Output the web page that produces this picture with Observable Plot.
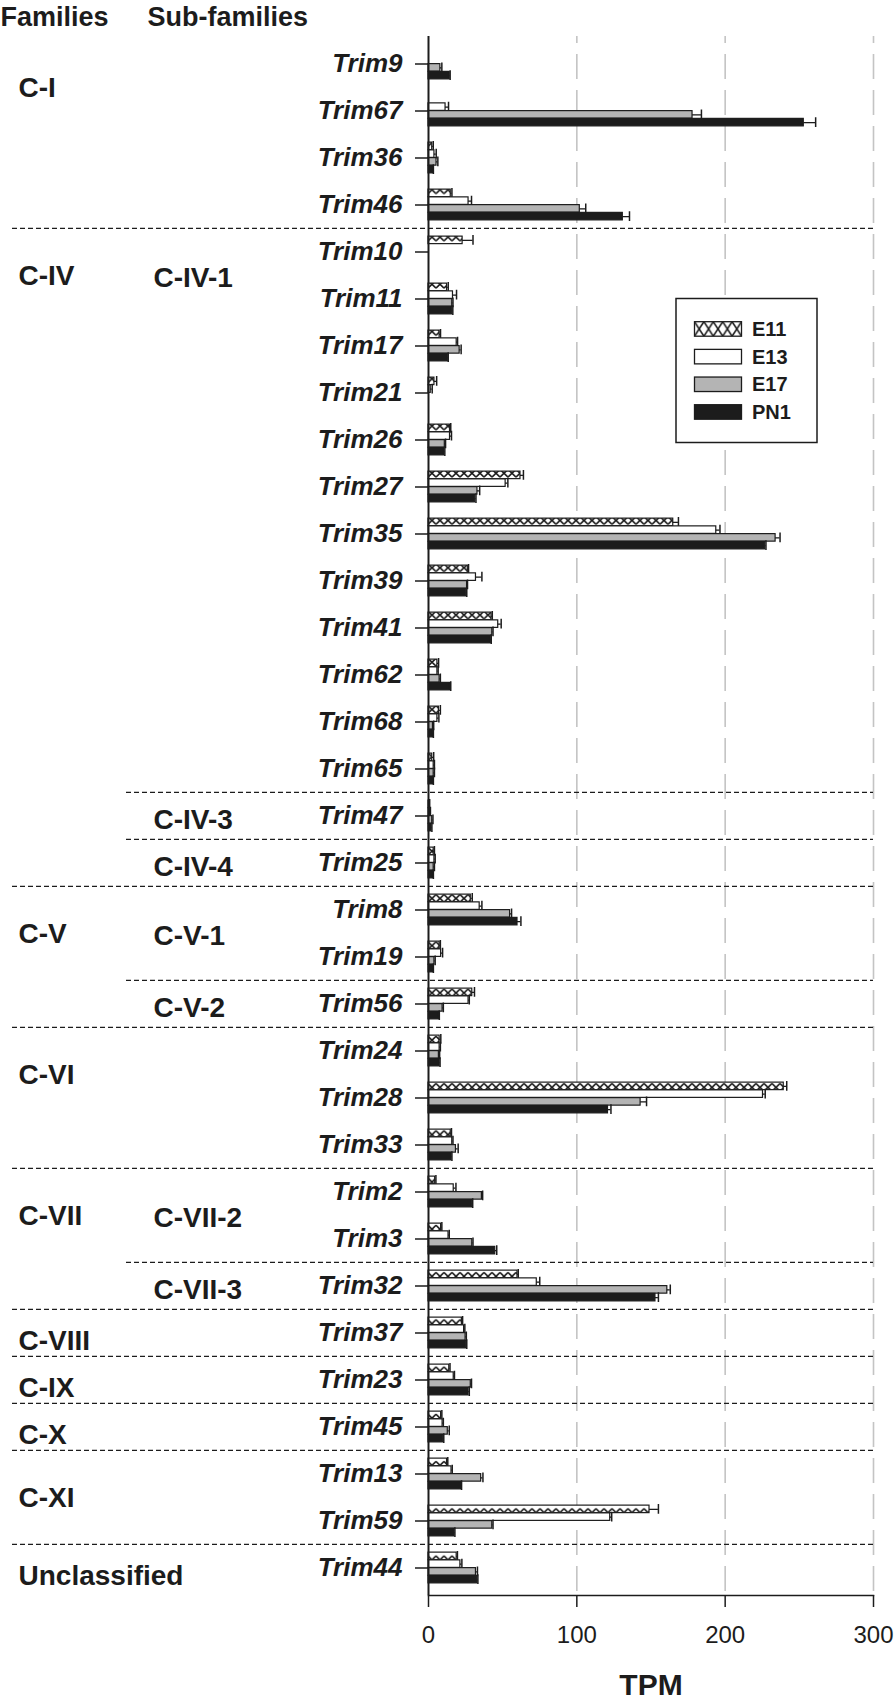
<!DOCTYPE html>
<html>
<head>
<meta charset="utf-8">
<script src="https://cdn.jsdelivr.net/npm/d3@7"></script>
<script src="https://cdn.jsdelivr.net/npm/@observablehq/plot@0.6"></script>
<style>
  html, body { margin: 0; padding: 0; background: #fff; }
  #chart { width: 896px; height: 1700px; }
</style>
</head>
<body>
<div id="chart"></div>
<script>
// ---------------- DATA ----------------
const genes = ["Trim9","Trim67","Trim36","Trim46","Trim10","Trim11","Trim17","Trim21","Trim26","Trim27","Trim35","Trim39","Trim41","Trim62","Trim68","Trim65","Trim47","Trim25","Trim8","Trim19","Trim56","Trim24","Trim28","Trim33","Trim2","Trim3","Trim32","Trim37","Trim23","Trim45","Trim13","Trim59","Trim44"];
const families = ["C-I","C-I","C-I","C-I",
  "C-IV","C-IV","C-IV","C-IV","C-IV","C-IV","C-IV","C-IV","C-IV","C-IV","C-IV","C-IV","C-IV","C-IV",
  "C-V","C-V","C-V","C-VI","C-VI","C-VI","C-VII","C-VII","C-VII","C-VIII","C-IX","C-X","C-XI","C-XI","Unclassified"];
const subfamilies = ["","","","",
  "C-IV-1","C-IV-1","C-IV-1","C-IV-1","C-IV-1","C-IV-1","C-IV-1","C-IV-1","C-IV-1","C-IV-1","C-IV-1","C-IV-1","C-IV-3","C-IV-4",
  "C-V-1","C-V-1","C-V-2","","","","C-VII-2","C-VII-2","C-VII-3","","","","","",""];
const series = ["E11","E13","E17","PN1"];
const E11     = [0, 0, 2.5, 15, 23, 12.5, 7.5, 4, 14.5, 62, 165, 26.5, 42.5, 6, 7, 2.5, 0.5, 3.5, 28.5, 7.5, 29.5, 7.5, 239.5, 15, 4.5, 8.5, 60, 22.5, 14, 8.5, 12.5, 149, 19];
const E11_err = [0, 0, 0.7, 0.8, 7, 0.8, 0.6, 1.5, 0.5, 2, 3.5, 0.5, 0.5, 0.8, 1, 1, 0.3, 0.5, 1, 0.5, 1.5, 0.8, 2, 0.5, 0.5, 0.5, 0.5, 0.5, 0.5, 0.5, 0.5, 6, 0.5];
const E13     = [0, 11.5, 4, 27, 0, 16.5, 19, 1.5, 14.5, 52, 194, 32, 47, 6, 6, 3.5, 1, 4, 34.5, 8.5, 27, 7.5, 225.5, 16, 17, 13.5, 73, 24, 17, 9.5, 15.5, 122.5, 21.5];
const E13_err = [0, 2, 1.2, 2, 0, 2.4, 0.6, 1, 1, 1.5, 2.5, 4, 2, 0.5, 1, 0.5, 0.3, 0.5, 1.5, 1, 0.5, 0.5, 1.5, 0.5, 1.5, 0.5, 2, 0.5, 0.5, 0.5, 0.5, 1, 1];
const E17     = [8, 178, 5.4, 102, 0, 16, 21, 0, 11, 33, 234, 26, 43, 7.5, 3, 3.5, 2.5, 3.5, 55, 4, 9.5, 7, 143, 18.5, 36, 29.5, 161, 25, 28.5, 13, 35.5, 43, 32];
const E17_err = [1, 6, 0.9, 4, 0, 0.5, 1, 0, 0.5, 1.5, 3, 0.3, 0.5, 0.5, 0.5, 0.5, 0.5, 0.5, 1, 0.5, 0.5, 0.5, 4, 1.5, 0.5, 0.5, 2, 0.5, 0.5, 1, 1.2, 0.5, 1];
const PN1     = [14.3, 253, 3, 131, 0, 16, 13, 0, 10.5, 31.5, 227, 25.5, 42, 14.5, 3, 3, 2, 3, 60, 3, 7, 7.5, 121, 15.5, 29.5, 45, 153, 25.5, 27, 10, 22, 17.5, 33];
const PN1_err = [0.3, 8, 0.3, 4.5, 0, 0.4, 0.3, 0, 0.5, 0.5, 0.5, 0.3, 0.3, 0.5, 0.3, 0.3, 0.3, 0.3, 2.3, 0.3, 0.3, 0.3, 2, 0.3, 0.3, 1, 2, 0.3, 0.5, 0.3, 0.3, 0.3, 0.3];
const xTicks = [0, 100, 200, 300];
const xLabel = "TPM";
const headers = ["Families", "Sub-families"];

// ---------------- BUILD ----------------
const values = {E11: [E11, E11_err], E13: [E13, E13_err], E17: [E17, E17_err], PN1: [PN1, PN1_err]};
const rows = [];
series.forEach(s => genes.forEach((g, i) => rows.push({gene: g, series: s, value: values[s][0][i], err: values[s][1][i]})));

function runs(arr) {
  const out = [];
  arr.forEach((v, i) => {
    if (i === 0 || arr[i - 1] !== v) out.push({name: v, first: genes[i], index: i, count: 1});
    else out[out.length - 1].count++;
  });
  return out;
}
const famRuns = runs(families);
const subRuns = runs(subfamilies).filter(d => d.name !== "");
const famStarts = new Set(famRuns.map(d => d.index));
const famSeps = famRuns.filter(d => d.index > 0);
const subSeps = subRuns.filter(d => !famStarts.has(d.index));

const W = 896, H = 1700;
const mTop = 36, mBottom = 105, mLeft = 428, mRight = 23;
const step = (H - mTop - mBottom) / genes.length;
const barH = 7.75, groupH = barH * 4;
const pxPerUnit = (W - mLeft - mRight) / 300;
const pxToX = px => (px - mLeft) / pxPerUnit;
const ink = "#1c1c1c";
const fills = ["url(#xhatch)", "#ffffff", "#b4b4b4", ink];
const font = "'Liberation Sans', Arial, Helvetica, sans-serif";

const marks = [
  Plot.gridX(xTicks.filter(d => d > 0), {stroke: "#c4c4c4", strokeOpacity: 1, strokeWidth: 1.6, strokeDasharray: "25,11", strokeDashoffset: 18}),
  // separators
  Plot.ruleY(famSeps, {y: "first", dy: -step / 2, x1: pxToX(12), x2: 300, stroke: ink, strokeWidth: 1.4, strokeDasharray: "5,3"}),
  Plot.ruleY(subSeps, {y: "first", dy: -step / 2, x1: pxToX(126), x2: 300, stroke: ink, strokeWidth: 1.4, strokeDasharray: "5,3"})
];

series.forEach((s, i) => {
  const top = (step - groupH) / 2 + i * barH;
  const data = rows.filter(d => d.series === s);
  const withErr = data.filter(d => d.value > 0);
  marks.push(Plot.barX(data, {y: "gene", x1: 0, x2: "value", insetTop: top, insetBottom: step - top - barH,
    fill: fills[i], stroke: ink, strokeWidth: 1.2}));
  marks.push(Plot.ruleY(withErr, {y: "gene", x1: "value", x2: d => d.value + d.err, dy: top + barH / 2 - step / 2,
    stroke: ink, strokeWidth: 1.3}));
  const c = top + barH / 2;
  marks.push(Plot.tickX(withErr, {y: "gene", x: d => d.value + d.err, insetTop: c - 5, insetBottom: step - c - 5,
    stroke: ink, strokeWidth: 1.5}));
});

const labelStyle = {y: "first", text: "name", frameAnchor: "left", textAnchor: "start", fontSize: 28, fontWeight: "bold", fill: ink};
marks.push(
  Plot.ruleX([0], {stroke: ink, strokeWidth: 2}),
  Plot.frame({anchor: "bottom", stroke: ink, strokeWidth: 1.5}),
  Plot.axisY({tickSize: 13, tickPadding: 13, fontSize: 26, fontWeight: "bold", fontStyle: "italic", fill: ink, stroke: ink, strokeWidth: 1.5, label: null}),
  Plot.axisX({ticks: xTicks, tickSize: 12, tickPadding: 18, fontSize: 24, fill: ink, stroke: ink, strokeWidth: 1.5, label: null}),
  // family / sub-family labels
  Plot.text(famRuns.filter(d => d.count > 1), {...labelStyle, dx: 18 - mLeft, dy: step * 0.5}),
  Plot.text(famRuns.filter(d => d.count === 1), {...labelStyle, dx: 18 - mLeft, dy: 8}),
  Plot.text(subRuns.filter(d => d.count > 1), {...labelStyle, dx: 153 - mLeft, dy: step * 0.55}),
  Plot.text(subRuns.filter(d => d.count === 1), {...labelStyle, dx: 153 - mLeft, dy: 4}),
  // headers
  Plot.text([headers[0]], {frameAnchor: "top-left", dx: -mLeft, dy: 25.5 - mTop, lineAnchor: "bottom", textAnchor: "start", fontSize: 27, fontWeight: "bold", fill: ink}),
  Plot.text([headers[1]], {frameAnchor: "top-left", dx: -mLeft + 147, dy: 25.5 - mTop, lineAnchor: "bottom", textAnchor: "start", fontSize: 27, fontWeight: "bold", fill: ink}),
  // x label
  Plot.text([xLabel], {frameAnchor: "bottom", dy: 1694 - (H - mBottom), lineAnchor: "bottom", fontSize: 30, fontWeight: "bold", fill: ink})
);

const svg = Plot.plot({
  width: W, height: H,
  marginTop: mTop, marginBottom: mBottom, marginLeft: mLeft, marginRight: mRight,
  x: {domain: [0, 300]},
  y: {domain: genes, padding: 0},
  style: {fontFamily: font, background: "#fff", color: ink, overflow: "visible"},
  marks
});

// patterns
const s = d3.select(svg);
const defs = s.insert("defs", ":first-child");
function hatch(id, x, y, w, h, tileH, off) {
  const p = defs.append("pattern").attr("id", id).attr("patternUnits", "userSpaceOnUse")
    .attr("x", x).attr("y", y).attr("width", w).attr("height", tileH);
  p.append("rect").attr("width", w).attr("height", tileH).attr("fill", "#fff");
  p.append("path").attr("d", `M0,${off}L${w},${off + h}M${w},${off}L0,${off + h}`)
    .attr("stroke", ink).attr("stroke-width", 1.6).attr("fill", "none");
}
hatch("xhatch", mLeft, mTop, 8, barH, step, (step - groupH) / 2);

// legend
const lx = 676, ly = 298.5;
const lg = s.append("g").attr("font-family", font).attr("text-anchor", "start");
hatch("xhatchL", lx + 18.5, ly + 23.2, 47 / 5, 14.5, 14.5, 0);
lg.append("rect").attr("x", lx).attr("y", ly).attr("width", 141).attr("height", 144)
  .attr("fill", "#fff").attr("stroke", ink).attr("stroke-width", 1.5);
series.forEach((name, i) => {
  const y = ly + 23.2 + i * 27.67;
  lg.append("rect").attr("x", lx + 18.5).attr("y", y).attr("width", 47).attr("height", 14.5)
    .attr("fill", i === 0 ? "url(#xhatchL)" : fills[i]).attr("stroke", ink).attr("stroke-width", 1.3);
  lg.append("text").attr("x", lx + 76).attr("y", y + 7.25).attr("dy", "0.36em").attr("text-anchor", "start")
    .attr("font-size", 20).attr("font-weight", "bold").attr("fill", ink).text(name);
});

document.getElementById("chart").appendChild(svg);
</script>
</body>
</html>
